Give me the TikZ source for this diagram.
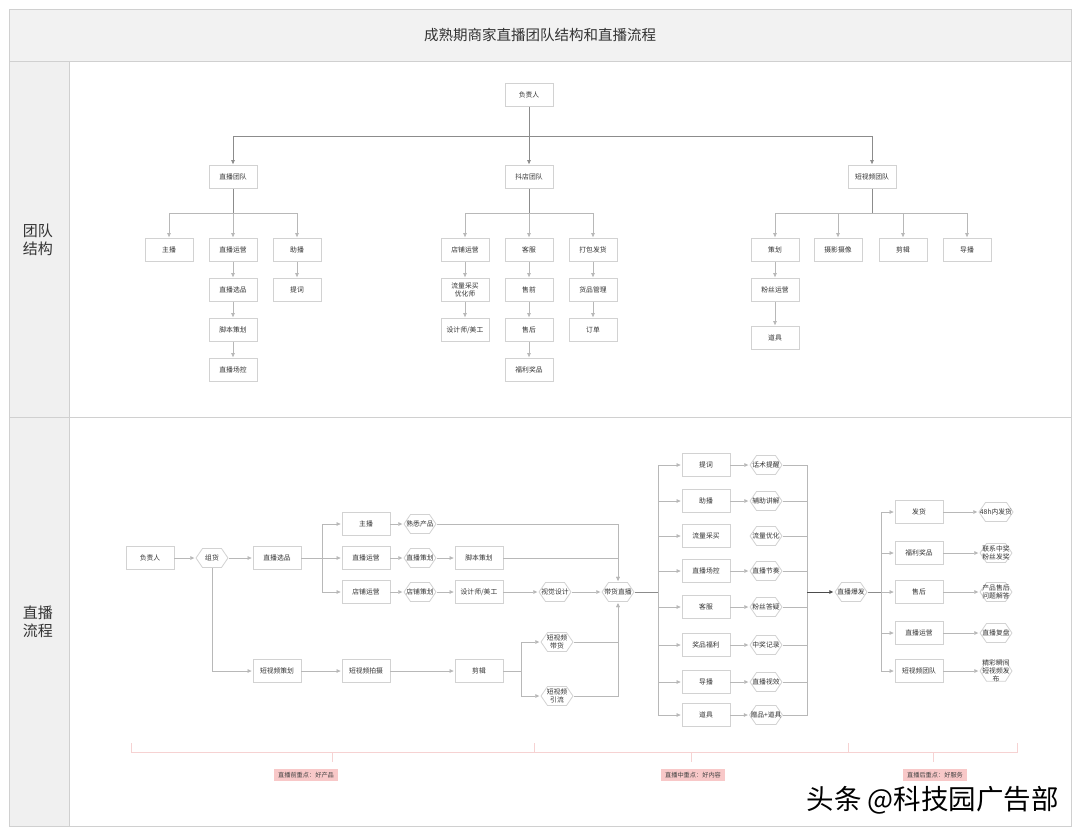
\documentclass[tikz,border=0pt]{standalone}
\usepackage{fontspec}
\setmainfont{Noto Sans CJK SC}
\usetikzlibrary{arrows.meta,calc}
\definecolor{framec}{HTML}{D0D0D0}
\definecolor{bandc}{HTML}{F2F2F2}
\definecolor{colc}{HTML}{F0F0F0}
\definecolor{boxc}{HTML}{D2D2D2}
\definecolor{linec}{HTML}{B8B8B8}
\definecolor{darkl}{HTML}{8C8C8C}
\definecolor{txtc}{HTML}{333333}
\definecolor{brkc}{HTML}{F6D2D2}
\definecolor{labc}{HTML}{F8C8C8}
\begin{document}
\begin{tikzpicture}[x=1pt,y=-1pt,
  nbox/.style={draw=boxc, line width=0.8pt, fill=white, minimum width=48pt, minimum height=23pt,
    inner sep=0.5pt, align=center, font=\fontsize{6.8}{7.6}\selectfont, text=txtc},
  hexn/.style={fill=white, minimum width=33pt, minimum height=20pt, inner xsep=1.5pt, inner ysep=0pt,
    align=center, font=\fontsize{6.8}{7.6}\selectfont, text=txtc,
    path picture={\draw[boxc, line width=0.8pt]
      ([xshift=0.5pt]path picture bounding box.west) --
      ([xshift=7pt,yshift=-0.5pt]path picture bounding box.north west) --
      ([xshift=-7pt,yshift=-0.5pt]path picture bounding box.north east) --
      ([xshift=-0.5pt]path picture bounding box.east) --
      ([xshift=-7pt,yshift=0.5pt]path picture bounding box.south east) --
      ([xshift=7pt,yshift=0.5pt]path picture bounding box.south west) -- cycle;}},
  conn/.style={draw=linec, line width=0.7pt},
  arr/.style={conn, -{Triangle[length=4pt,width=3.6pt]}, shorten >=1pt},
  tconn/.style={draw=darkl, line width=0.7pt},
  tarr/.style={tconn, -{Triangle[length=4pt,width=3.6pt]}, shorten >=1pt},
  brk/.style={draw=brkc, line width=0.8pt},
  lab/.style={fill=labc, font=\fontsize{6.2}{7}\selectfont, text=black!75, minimum height=12pt,
    inner xsep=4pt, inner ysep=0pt}
]
\useasboundingbox (0,0) rectangle (1080,836);
% frame
\fill[white] (0,0) rectangle (1080,836);
\fill[bandc] (9,9) rectangle (1071,61);
\fill[colc] (9,61) rectangle (69,826);
\draw[framec, line width=1pt] (9,9) rectangle (1071,826);
\draw[framec, line width=1pt] (9,61) -- (1071,61);
\draw[framec, line width=1pt] (69,61) -- (69,826);
\draw[framec, line width=1pt] (9,417) -- (1071,417);
\node[font=\fontsize{14.5}{16}\selectfont, text=txtc] (title) at (540,35) {成熟期商家直播团队结构和直播流程};
\node[font=\fontsize{15}{17.5}\selectfont, text=txtc, align=center] (r1) at (38,240) {团队\\结构};
\node[font=\fontsize{15}{17.5}\selectfont, text=txtc, align=center] (r2) at (38,622) {直播\\流程};

% ===== structure =====
\node[nbox] (s0) at (529,95) {负责人};
\node[nbox] (sA) at (233,177) {直播团队};
\node[nbox] (sB) at (529,177) {抖店团队};
\node[nbox] (sC) at (872,177) {短视频团队};
\coordinate (j0) at (529,136);
\draw[tarr] (s0) -- (sB);
\draw[tarr] (j0) -| (sA.north);
\draw[tarr] (j0) -| (sC.north);

\node[nbox] (sA1) at (169,250) {主播};
\node[nbox] (sA2) at (233,250) {直播运营};
\node[nbox] (sA3) at (297,250) {助播};
\node[nbox] (sA4) at (233,290) {直播选品};
\node[nbox] (sA5) at (233,330) {脚本策划};
\node[nbox] (sA6) at (233,370) {直播场控};
\node[nbox] (sA7) at (297,290) {提词};
\coordinate (jA) at (233,213);
\draw[tconn] (sA.south) -- (jA);
\draw[arr] (jA) -| (sA1.north);
\draw[arr] (jA) -- (sA2.north);
\draw[arr] (jA) -| (sA3.north);
\draw[arr] (sA2) -- (sA4);
\draw[arr] (sA4) -- (sA5);
\draw[arr] (sA5) -- (sA6);
\draw[arr] (sA3) -- (sA7);

\node[nbox] (sB1) at (465,250) {店铺运营};
\node[nbox] (sB2) at (529,250) {客服};
\node[nbox] (sB3) at (593,250) {打包发货};
\node[nbox] (sB4) at (465,290) {流量采买\\优化师};
\node[nbox] (sB5) at (465,330) {设计师/美工};
\node[nbox] (sB6) at (529,290) {售前};
\node[nbox] (sB7) at (529,330) {售后};
\node[nbox] (sB8) at (529,370) {福利奖品};
\node[nbox] (sB9) at (593,290) {货品管理};
\node[nbox] (sB10) at (593,330) {订单};
\coordinate (jB) at (529,213);
\draw[tconn] (sB.south) -- (jB);
\draw[arr] (jB) -| (sB1.north);
\draw[arr] (jB) -- (sB2.north);
\draw[arr] (jB) -| (sB3.north);
\draw[arr] (sB1) -- (sB4);
\draw[arr] (sB4) -- (sB5);
\draw[arr] (sB2) -- (sB6);
\draw[arr] (sB6) -- (sB7);
\draw[arr] (sB7) -- (sB8);
\draw[arr] (sB3) -- (sB9);
\draw[arr] (sB9) -- (sB10);

\node[nbox] (sC1) at (775,250) {策划};
\node[nbox] (sC2) at (838,250) {摄影摄像};
\node[nbox] (sC3) at (903,250) {剪辑};
\node[nbox] (sC4) at (967,250) {导播};
\node[nbox] (sC5) at (775,290) {粉丝运营};
\node[nbox] (sC6) at (775,338) {道具};
\coordinate (jC) at (872,213);
\draw[tconn, line width=1pt] (sC.south) -- (jC);
\draw[arr] (jC) -| (sC1.north);
\draw[arr] (jC) -| (sC2.north);
\draw[arr] (jC) -| (sC3.north);
\draw[arr] (jC) -| (sC4.north);
\draw[arr] (sC1) -- (sC5);
\draw[arr] (sC5) -- (sC6);

% ===== flow =====
\node[nbox] (f0) at (150,558) {负责人};
\node[hexn] (f1) at (212,558) {组货};
\node[nbox] (f2) at (277,558) {直播选品};
\node[nbox] (f3) at (366,524) {主播};
\node[nbox] (f4) at (366,558) {直播运营};
\node[nbox] (f5) at (366,592) {店铺运营};
\node[hexn] (f6) at (420,524) {熟悉产品};
\node[hexn] (f7) at (420,558) {直播策划};
\node[hexn] (f8) at (420,592) {店铺策划};
\node[nbox] (f9) at (479,558) {脚本策划};
\node[nbox] (f10) at (479,592) {设计师/美工};
\node[hexn] (f11) at (555,592) {视觉设计};
\node[hexn] (f12) at (618,592) {带货直播};
\node[nbox] (f13) at (277,671) {短视频策划};
\node[nbox] (f14) at (366,671) {短视频拍摄};
\node[nbox] (f15) at (479,671) {剪辑};
\node[hexn] (f16) at (557,642) {短视频\\带货};
\node[hexn] (f17) at (557,696) {短视频\\引流};

\draw[arr] (f0) -- (f1);
\draw[arr] (f1) -- (f2);
\coordinate (jb) at (322,558);
\draw[conn, line width=1pt] (f2.east) -- (jb);
\draw[arr] (jb) -- (f4.west);
\draw[arr] (jb) |- (f3.west);
\draw[arr] (jb) |- (f5.west);
\draw[arr] (f3) -- (f6);
\draw[arr] (f4) -- (f7);
\draw[arr] (f5) -- (f8);
\draw[arr] (f7) -- (f9);
\draw[arr] (f8) -- (f10);
\draw[arr] (f10) -- (f11);
\draw[arr] (f11) -- (f12);
\draw[arr] (f6.east) -| (f12.north);
\draw[arr] (f9.east) -| (f12.north);
\draw[arr] (f1.south) |- (f13.west);
\draw[arr] (f13) -- (f14);
\draw[arr] (f14) -- (f15);
\coordinate (jc) at (521,671);
\draw[conn] (f15.east) -- (jc);
\draw[arr] (jc) |- (f16.west);
\draw[arr] (jc) |- (f17.west);
\draw[arr] (f16.east) -| (f12.south);
\draw[arr] (f17.east) -| (f12.south);

% middle column
\node[nbox] (g1) at (706,465) {提词};
\node[nbox] (g2) at (706,501) {助播};
\node[nbox] (g3) at (706,536) {流量采买};
\node[nbox] (g4) at (706,571) {直播场控};
\node[nbox] (g5) at (706,607) {客服};
\node[nbox] (g6) at (706,645) {奖品福利};
\node[nbox] (g7) at (706,682) {导播};
\node[nbox] (g8) at (706,715) {道具};
\node[hexn] (h1) at (766,465) {话术提醒};
\node[hexn] (h2) at (766,501) {辅助讲解};
\node[hexn] (h3) at (766,536) {流量优化};
\node[hexn] (h4) at (766,571) {直播节奏};
\node[hexn] (h5) at (766,607) {粉丝答疑};
\node[hexn] (h6) at (766,645) {中奖记录};
\node[hexn] (h7) at (766,682) {直播视效};
\node[hexn] (h8) at (766,715) {赠品+道具};
\coordinate (jd) at (658,592);
\coordinate (jr) at (807,592);
\draw[tconn] (f12.east) -- (jd);
\foreach \g in {g1,g2,g3,g4,g5,g6,g7,g8}{\draw[arr] (jd) |- (\g.west);}
\foreach \g/\h in {g1/h1,g2/h2,g4/h4,g5/h5,g6/h6,g7/h7,g8/h8}{\draw[arr] (\g) -- (\h);}
\foreach \h in {h1,h2,h3,h4,h5,h6,h7,h8}{\draw[conn] (\h.east) -| (jr);}

\node[hexn] (k0) at (851,592) {直播爆发};
\draw[tarr, draw=black!70, line width=1pt] (jr) -- (k0.west);

\node[nbox] (m1) at (919,512) {发货};
\node[nbox] (m2) at (919,553) {福利奖品};
\node[nbox] (m3) at (919,592) {售后};
\node[nbox] (m4) at (919,633) {直播运营};
\node[nbox] (m5) at (919,671) {短视频团队};
\node[hexn] (n1) at (996,512) {48h内发货};
\node[hexn] (n2) at (996,553) {联系中奖\\粉丝发奖};
\node[hexn] (n3) at (996,592) {产品售后\\问题解答};
\node[hexn] (n4) at (996,633) {直播复盘};
\node[hexn] (n5) at (996,671) {精彩瞬间\\短视频发\\布};
\coordinate (je) at (881,592);
\draw[tconn, line width=1pt] (k0.east) -- (je);
\foreach \m in {m1,m2,m3,m4,m5}{\draw[arr] (je) |- (\m.west);}
\foreach \m/\n in {m1/n1,m2/n2,m3/n3,m4/n4,m5/n5}{\draw[arr] (\m) -- (\n);}

% ===== bracket =====
\draw[brk] (131,743) -- (131,752) -- (1017,752) -- (1017,743);
\draw[brk] (534,743) -- (534,752);
\draw[brk] (848,743) -- (848,752);
\draw[brk] (332,752) -- (332,762);
\draw[brk] (691,752) -- (691,762);
\draw[brk] (933,752) -- (933,762);
\node[lab] (l1) at (306,775) {直播前重点：好产品};
\node[lab] (l2) at (693,775) {直播中重点：好内容};
\node[lab] (l3) at (935,775) {直播后重点：好服务};

% watermark
\node[font=\fontsize{27.5}{29}\selectfont, text=black, anchor=east, inner sep=0pt] (wm) at (1059,800) {头条 @科技园广告部};
\end{tikzpicture}
\end{document}
